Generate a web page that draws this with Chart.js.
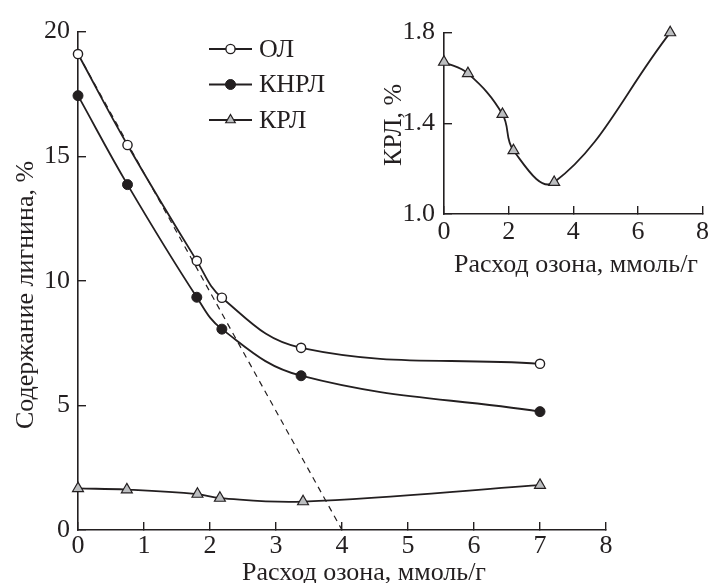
<!DOCTYPE html>
<html>
<head>
<meta charset="utf-8">
<script src="https://cdn.jsdelivr.net/npm/chart.js@4.4.1/dist/chart.umd.min.js"></script>
<style>
  html, body { margin: 0; padding: 0; background: #fff; }
  #wrap { position: relative; width: 720px; height: 583px; overflow: hidden; }
  #main { position: absolute; left: 0; top: 0; }
  #inset { position: absolute; left: 360px; top: 0; }
</style>
</head>
<body>
<div id="wrap">
  <canvas id="main" width="720" height="583"></canvas>
  <canvas id="inset" width="360" height="285"></canvas>
</div>
<script>
// Расход озона, ммоль/г
const ozone = [0, 0.75, 1.8, 2.18, 3.38, 7.0];
const krlOzone = [0, 0.74, 1.81, 2.15, 3.41, 7.0];
// содержание лигнина, %
const olValues = [19.1, 15.45, 10.8, 9.32, 7.31, 6.67];
const knrlValues = [17.43, 13.86, 9.34, 8.06, 6.19, 4.75];
const krlValues = [1.67, 1.62, 1.44, 1.28, 1.14, 1.8];
// касательная (пунктир)
const tangentX = [0, 4];
const tangentY = [19.1, 0];

const mainXTicks = [0, 1, 2, 3, 4, 5, 6, 7, 8];
const mainYTicks = [0, 5, 10, 15, 20];
const insetXTicks = [0, 2, 4, 6, 8];
const insetYTicks = [1.0, 1.4, 1.8];

const INK = '#231f20';
const GREY = '#bcbec0';
const FONT = 'Liberation Serif, Times New Roman, serif';

function pts(xs, ys) {
  return xs.map(function (x, i) {
    return { x: x, y: ys[i] };
  });
}

function fixTicks(list) {
  return function (scale) {
    scale.ticks = list.map(function (v) {
      return { value: v };
    });
  };
}

function drawMarker(ctx, style, r, x, y) {
  ctx.beginPath();
  if (style === 'triangle') {
    let a = 0;
    for (let k = 0; k < 3; k++) {
      const px = x + Math.sin(a) * r;
      const py = y - Math.cos(a) * r;
      if (k === 0) ctx.moveTo(px, py);
      else ctx.lineTo(px, py);
      a += (2 * Math.PI) / 3;
    }
    ctx.closePath();
  } else {
    ctx.arc(x, y, r, 0, Math.PI * 2);
  }
  ctx.fill();
  ctx.stroke();
}

// легенда: отрезок линии с маркером посередине
const sampleLegend = {
  id: 'sampleLegend',
  afterDatasetsDraw(chart, args, o) {
    if (!o || !o.show) return;
    const ctx = chart.ctx;
    ctx.save();
    let row = 0;
    chart.data.datasets.forEach(function (ds) {
      if (!ds.label) return;
      const y = o.top + row * o.gap;
      ctx.strokeStyle = INK;
      ctx.lineWidth = 1.8;
      ctx.beginPath();
      ctx.moveTo(o.left, y);
      ctx.lineTo(o.left + o.len, y);
      ctx.stroke();
      ctx.fillStyle = ds.pointBackgroundColor;
      ctx.lineWidth = ds.pointBorderWidth;
      drawMarker(ctx, ds.pointStyle, ds.label === 'КРЛ' ? 5.5 : ds.pointRadius, o.left + o.len / 2, y);
      ctx.fillStyle = INK;
      ctx.font = o.font;
      ctx.textAlign = 'left';
      ctx.textBaseline = 'middle';
      ctx.fillText(ds.label, o.left + o.len + 7, y + 1);
      row++;
    });
    ctx.restore();
  },
};

// подписи осей
const axisTitles = {
  id: 'axisTitles',
  afterDraw(chart, args, o) {
    const ctx = chart.ctx;
    ctx.save();
    ctx.fillStyle = INK;
    ctx.font = o.font;
    ctx.textAlign = 'center';
    ctx.textBaseline = 'alphabetic';
    ctx.fillText(o.xText, o.xCx, o.xBase);
    ctx.translate(o.yBase, o.yCy);
    ctx.rotate(-Math.PI / 2);
    ctx.fillText(o.yText, 0, 0);
    ctx.restore();
  },
};

function axis(min, max, ticks, fit, pad, fmt) {
  return {
    type: 'linear',
    min: min,
    max: max,
    afterBuildTicks: fixTicks(ticks),
    afterFit: fit,
    border: { display: true, color: INK, width: 1.6 },
    grid: {
      drawOnChartArea: false,
      drawTicks: true,
      tickLength: -8,
      color: INK,
      lineWidth: 1.4,
    },
    ticks: {
      color: INK,
      padding: pad,
      font: { family: FONT, size: 26 },
      callback: fmt || function (v) {
        return String(v);
      },
    },
  };
}

const mainChart = new Chart(document.getElementById('main'), {
  type: 'line',
  data: {
    datasets: [
      {
        label: 'ОЛ',
        data: pts(ozone, olValues),
        borderColor: INK,
        borderWidth: 1.8,
        tension: 0.4,
        pointStyle: 'circle',
        pointRadius: 4.6,
        pointBackgroundColor: '#fff',
        pointBorderColor: INK,
        pointBorderWidth: 1.4,
        clip: false,
      },
      {
        label: 'КНРЛ',
        data: pts(ozone, knrlValues),
        borderColor: INK,
        borderWidth: 1.8,
        tension: 0.4,
        pointStyle: 'circle',
        pointRadius: 5,
        pointBackgroundColor: INK,
        pointBorderColor: INK,
        pointBorderWidth: 1,
        clip: false,
      },
      {
        label: 'КРЛ',
        data: pts(krlOzone, krlValues),
        borderColor: INK,
        borderWidth: 1.8,
        tension: 0.4,
        pointStyle: 'triangle',
        pointRadius: 6.3,
        pointBackgroundColor: GREY,
        pointBorderColor: INK,
        pointBorderWidth: 1.2,
        clip: false,
      },
      {
        label: '',
        data: pts(tangentX, tangentY),
        borderColor: INK,
        borderWidth: 1.2,
        borderDash: [6, 5],
        tension: 0,
        pointRadius: 0,
        clip: false,
      },
    ],
  },
  options: {
    responsive: false,
    devicePixelRatio: 1,
    animation: false,
    layout: { padding: { left: 0, top: 22, right: 114, bottom: 0 } },
    scales: {
      x: axis(0, 8, mainXTicks, function (s) { s.height = 53; }, 9),
      y: axis(0, 20, mainYTicks, function (s) { s.width = 78; }, 16),
    },
    plugins: {
      legend: { display: false },
      tooltip: { enabled: false },
      sampleLegend: { show: true, left: 209, len: 43, top: 49, gap: 35.5, font: '26px ' + FONT },
      axisTitles: {
        font: '26px ' + FONT,
        xText: 'Расход озона, ммоль/г',
        xCx: 364,
        xBase: 580,
        yText: 'Содержание лигнина, %',
        yBase: 33,
        yCy: 295,
      },
    },
  },
  plugins: [sampleLegend, axisTitles],
});

const insetChart = new Chart(document.getElementById('inset'), {
  type: 'line',
  data: {
    datasets: [
      {
        label: 'КРЛ',
        data: pts(krlOzone, krlValues),
        borderColor: INK,
        borderWidth: 1.8,
        tension: 0.4,
        pointStyle: 'triangle',
        pointRadius: 6.3,
        pointBackgroundColor: GREY,
        pointBorderColor: INK,
        pointBorderWidth: 1.2,
        clip: false,
      },
    ],
  },
  options: {
    responsive: false,
    devicePixelRatio: 1,
    animation: false,
    layout: { padding: { left: 0, top: 32, right: 5, bottom: 0 } },
    scales: {
      x: axis(0, 8, insetXTicks, function (s) { s.height = 71; }, 11),
      y: axis(1.0, 1.8, insetYTicks, function (s) { s.width = 84; }, 17, function (v) {
        return Number(v).toFixed(1);
      }),
    },
    plugins: {
      legend: { display: false },
      tooltip: { enabled: false },
      axisTitles: {
        font: '26px ' + FONT,
        xText: 'Расход озона, ммоль/г',
        xCx: 216,
        xBase: 272,
        yText: 'КРЛ, %',
        yBase: 41,
        yCy: 125,
      },
    },
  },
  plugins: [axisTitles],
});
</script>
</body>
</html>
